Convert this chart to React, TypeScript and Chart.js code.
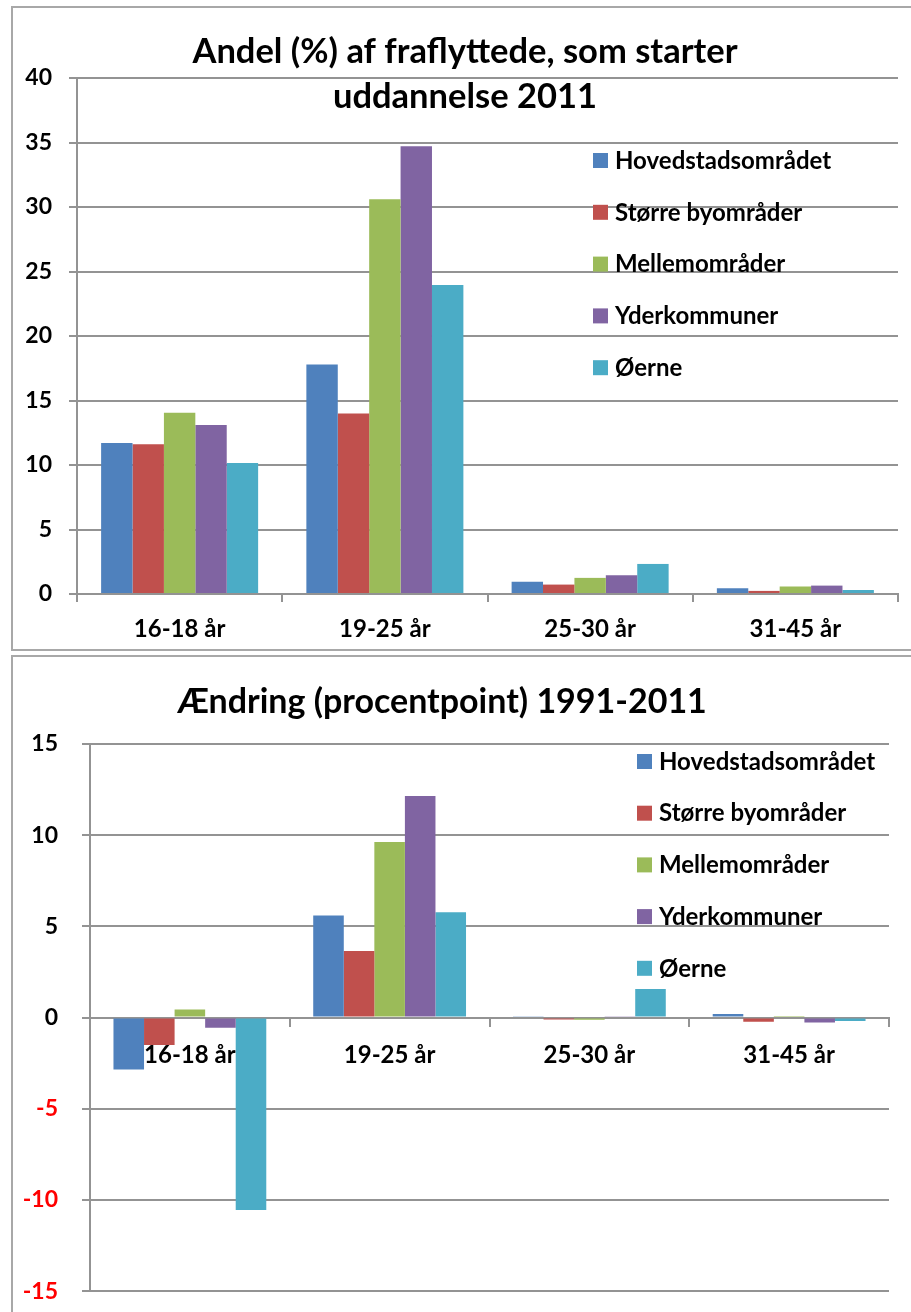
import React, { useEffect, useRef } from "react";
import { Chart, registerables } from "chart.js";

Chart.register(...registerables);

// ---------- data ----------
const categories = ["16-18 år", "19-25 år", "25-30 år", "31-45 år"];
const seriesNames = ["Hovedstadsområdet", "Større byområder", "Mellemområder", "Yderkommuner", "Øerne"];
const seriesColors = ["#4F81BD", "#C0504D", "#9BBB59", "#8064A2", "#4BACC6"];

// Andel (%) af fraflyttede, som starter uddannelse 2011
const andelHovedstad = [11.7, 17.8, 0.95, 0.45];
const andelStoerre = [11.6, 14.0, 0.73, 0.24];
const andelMellem = [14.05, 30.6, 1.25, 0.58];
const andelYder = [13.1, 34.7, 1.45, 0.65];
const andelOerne = [10.15, 23.95, 2.33, 0.31];

// Ændring (procentpoint) 1991-2011
const aendHovedstad = [-2.85, 5.6, 0.08, 0.2];
const aendStoerre = [-1.5, 3.65, -0.1, -0.23];
const aendMellem = [0.45, 9.63, -0.12, 0.03];
const aendYder = [-0.55, 12.15, 0.07, -0.27];
const aendOerne = [-10.55, 5.77, 1.57, -0.18];

const topTitle = ["Andel (%) af fraflyttede, som starter", "uddannelse 2011"];
const bottomTitle = ["Ændring (procentpoint) 1991-2011"];

const topTicks = { min: 0, max: 40, step: 5 };
const bottomTicks = { min: -15, max: 15, step: 5 };

const FONT = "Lato";
const GRID = "#939393";

function makeDatasets(series: number[][]) {
  return series.map((d, i) => ({
    label: seriesNames[i],
    data: d,
    backgroundColor: seriesColors[i],
    borderWidth: 0,
    categoryPercentage: 0.765,
    barPercentage: 1.0,
  }));
}

type Deco = {
  titleLines: string[];
  titleX: number;
  titleY: number[];
  titleSize: number;
  legendX: number;
  legendY: number;
  legendGap: number;
  legendSize: number;
};

function decoPlugin(d: Deco) {
  return {
    id: "deco",
    afterDraw(chart: any) {
      const ctx = chart.ctx;
      ctx.save();
      ctx.fillStyle = "#000";
      ctx.textAlign = "center";
      ctx.textBaseline = "alphabetic";
      ctx.font = `bold ${d.titleSize}px ${FONT}`;
      d.titleLines.forEach((t, i) => ctx.fillText(t, d.titleX, d.titleY[i]));
      ctx.textAlign = "left";
      ctx.textBaseline = "middle";
      ctx.font = `bold ${d.legendSize}px ${FONT}`;
      chart.data.datasets.forEach((ds: any, i: number) => {
        const cy = d.legendY + i * d.legendGap;
        ctx.fillStyle = ds.backgroundColor;
        ctx.fillRect(d.legendX, cy - 7, 15, 15);
        ctx.fillStyle = "#000";
        ctx.fillText(ds.label, d.legendX + 22, cy + 1);
      });
      ctx.restore();
    },
  };
}

function TopChart() {
  const ref = useRef<HTMLCanvasElement>(null);
  useEffect(() => {
    const chart = new Chart(ref.current!, {
      type: "bar",
      data: {
        labels: categories,
        datasets: makeDatasets([andelHovedstad, andelStoerre, andelMellem, andelYder, andelOerne]),
      },
      options: {
        responsive: false,
        animation: false,
        layout: { padding: { left: 0, top: 78, right: 13, bottom: 0 } },
        plugins: { legend: { display: false }, title: { display: false }, tooltip: { enabled: false } },
        scales: {
          x: {
            grid: { display: true, drawOnChartArea: false, drawTicks: true, tickLength: 8, offset: true, color: GRID, lineWidth: 2 },
            border: { display: true, color: GRID, width: 2 },
            ticks: { color: "#000", font: { family: FONT, size: 24, weight: "bold" }, padding: 13 },
            afterFit: (s: any) => { s.height = 56; },
          },
          y: {
            min: topTicks.min,
            max: topTicks.max,
            ticks: { stepSize: topTicks.step, color: "#000", font: { family: FONT, size: 23, weight: "bold" }, padding: 17 },
            grid: { color: GRID, lineWidth: 2, tickLength: 8, drawTicks: true },
            border: { display: true, color: GRID, width: 2 },
            afterFit: (s: any) => { s.width = 77; },
          },
        },
      } as any,
      plugins: [
        decoPlugin({
          titleLines: topTitle,
          titleX: 465,
          titleY: [63, 108],
          titleSize: 34.5,
          legendX: 593,
          legendY: 160,
          legendGap: 51.8,
          legendSize: 24,
        }),
      ],
    });
    return () => chart.destroy();
  }, []);
  return <canvas ref={ref} width={911} height={650} style={{ position: "absolute", left: 0, top: 0 }} />;
}

function BottomChart() {
  const ref = useRef<HTMLCanvasElement>(null);
  useEffect(() => {
    const chart = new Chart(ref.current!, {
      type: "bar",
      data: {
        labels: categories,
        datasets: makeDatasets([aendHovedstad, aendStoerre, aendMellem, aendYder, aendOerne]),
      },
      options: {
        responsive: false,
        animation: false,
        layout: { padding: { left: 0, top: 92, right: 22, bottom: 5 } },
        plugins: { legend: { display: false }, title: { display: false }, tooltip: { enabled: false } },
        scales: {
          x: {
            position: { y: 0 },
            grid: { display: true, drawOnChartArea: false, drawTicks: true, tickLength: 8, offset: true, color: GRID, lineWidth: 2 },
            border: { display: true, color: GRID, width: 2 },
            ticks: { color: "#000", font: { family: FONT, size: 24, weight: "bold" }, padding: 15 },
            afterFit: (s: any) => { s.height = 0; },
          },
          y: {
            min: bottomTicks.min,
            max: bottomTicks.max,
            ticks: {
              stepSize: bottomTicks.step,
              color: (c: any) => (c.tick && c.tick.value < 0 ? "#FF0000" : "#000"),
              font: { family: FONT, size: 23, weight: "bold" },
              padding: 24,
            },
            grid: { color: GRID, lineWidth: 2, tickLength: 8, drawTicks: true },
            border: { display: true, color: GRID, width: 2 },
            afterFit: (s: any) => { s.width = 90; },
          },
        },
      } as any,
      plugins: [
        decoPlugin({
          titleLines: bottomTitle,
          titleX: 442,
          titleY: [712.5 - 652],
          titleSize: 34,
          legendX: 637,
          legendY: 761 - 652,
          legendGap: 51.7,
          legendSize: 24,
        }),
      ],
    });
    return () => chart.destroy();
  }, []);
  return <canvas ref={ref} width={911} height={677} style={{ position: "absolute", left: 0, top: 652 }} />;
}

export default function App() {
  return (
    <div style={{ position: "absolute", left: 0, top: 0, width: 911, height: 1312, overflow: "hidden", background: "#fff" }}>
      <div style={{ position: "absolute", left: 11, top: 6, width: 940, height: 645, border: "2px solid #a8a8a8", boxSizing: "border-box" }} />
      <div style={{ position: "absolute", left: 11, top: 655, width: 940, height: 720, border: "2px solid #a8a8a8", boxSizing: "border-box" }} />
      <TopChart />
      <BottomChart />
    </div>
  );
}
